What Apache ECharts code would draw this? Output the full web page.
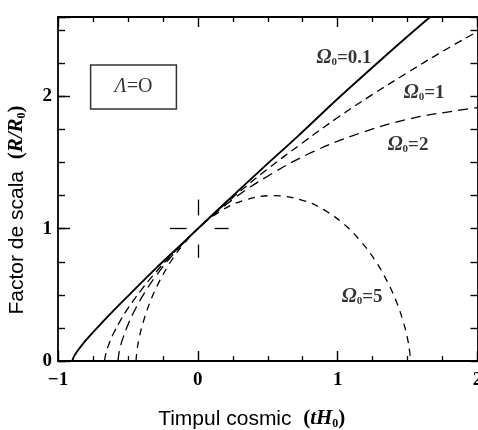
<!DOCTYPE html>
<html lang="ro">
  <head>
    <meta charset="UTF-8" />
    <title>Factor de scala</title>
    <script src="https://cdn.jsdelivr.net/npm/echarts@6/dist/echarts.min.js"></script>
    <style>
      html, body { margin: 0; padding: 0; background: #fff; }
      #main { width: 478px; height: 430px; }
    </style>
  </head>
  <body>
    <div id="main"></div>
    <script>
      // puncte: [t*H0, R/R0]
      var omega01 = [[-0.898, 0], [-0.888, 0.03], [-0.877, 0.049], [-0.861, 0.075], [-0.837, 0.109],
        [-0.803, 0.154], [-0.755, 0.211], [-0.69, 0.285], [-0.603, 0.381], [-0.487, 0.504],
        [-0.3, 0.7], [-0.134, 0.865], [0, 1], [0.188, 1.187], [0.466, 1.46], [0.716, 1.7],
        [1.008, 1.99], [1.25, 2.22], [1.474, 2.43], [1.75, 2.68]];
      var omega1 = [[-0.667, 0], [-0.66, 0.046], [-0.65, 0.085], [-0.62, 0.17], [-0.6, 0.215],
        [-0.55, 0.313], [-0.5, 0.397], [-0.4, 0.543], [-0.3, 0.671], [-0.2, 0.788], [-0.1, 0.897],
        [0, 1], [0.25, 1.236], [0.5, 1.452], [0.75, 1.65], [1, 1.84], [1.25, 2.015], [1.5, 2.18],
        [1.75, 2.34], [2, 2.49]];
      var omega2 = [[-0.571, 0], [-0.57, 0.011], [-0.566, 0.045], [-0.556, 0.1], [-0.535, 0.175],
        [-0.502, 0.268], [-0.454, 0.378], [-0.388, 0.503], [-0.303, 0.638], [-0.156, 0.83],
        [0, 1], [0.255, 1.225], [0.52, 1.41], [0.821, 1.58], [1.154, 1.72], [1.514, 1.83],
        [1.894, 1.9], [2, 1.915]];
      var omega5 = [[-0.442, 0], [-0.4356, 0.077], [-0.4206, 0.168], [-0.3925, 0.287], [-0.348, 0.428],
        [-0.285, 0.581], [-0.184, 0.767], [-0.101, 0.885], [0, 1], [0.152, 1.126], [0.328, 1.214],
        [0.54, 1.25], [0.761, 1.21], [0.909, 1.138], [1.045, 1.034], [1.166, 0.904], [1.27, 0.757],
        [1.355, 0.6], [1.42, 0.448], [1.467, 0.305], [1.497, 0.182], [1.515, 0.07], [1.521, 0]];

      var xTickValues = [-1, 0, 1, 2];
      var xTickLabels = ['\u22121', '0', '1', '2'];
      var yTickValues = [0, 1, 2];
      var yTickLabels = ['0', '1', '2'];

      // momentul prezent (t=0, R=R0)
      var present = [0, 1];

      // etichete pe grafic, in coordonate de date
      var notes = [
        { text: '{o|\u03A9}{s|0}{n|=0.1}', at: [1.046, 2.29] },
        { text: '{o|\u03A9}{s|0}{n|=1}', at: [1.618, 2.026] },
        { text: '{o|\u03A9}{s|0}{n|=2}', at: [1.503, 1.633] },
        { text: '{o|\u03A9}{s|0}{n|=5}', at: [1.175, 0.484] },
        { text: '{l|\u039B}{m|=O}', at: [-0.46, 2.07], box: true }
      ];

      var serif = "'Liberation Serif', 'DejaVu Serif', serif";
      var sans = "'Liberation Sans', Arial, sans-serif";

      var mChart = echarts.init(document.getElementById('main'));

      function xAxisCfg(pos, showLabel) {
        return {
          type: 'value', position: pos, min: -1, max: 2, interval: 1,
          axisLine: { show: true, onZero: false, lineStyle: { color: '#000', width: 1.8 } },
          axisTick: { show: true, inside: true, length: 10, lineStyle: { color: '#000', width: 1.4 } },
          minorTick: { show: true, splitNumber: 4, length: 5, lineStyle: { color: '#000', width: 1.3 } },
          splitLine: { show: false },
          minorSplitLine: { show: false },
          axisLabel: {
            show: showLabel, margin: 10, color: '#000',
            fontFamily: serif, fontWeight: 'bold', fontSize: 19,
            formatter: function (v) {
              var i = xTickValues.indexOf(v);
              return i < 0 ? '' : xTickLabels[i];
            }
          }
        };
      }

      function yAxisCfg(pos, interval, len, showLine, showLabel) {
        return {
          type: 'value', position: pos, min: 0, max: 2.6, interval: interval,
          axisLine: { show: showLine, onZero: false, lineStyle: { color: '#000', width: 1.8 } },
          axisTick: { show: true, inside: true, length: len, lineStyle: { color: '#000', width: 1.4 } },
          splitLine: { show: false },
          axisLabel: {
            show: showLabel, margin: 6, color: '#000',
            fontFamily: serif, fontWeight: 'bold', fontSize: 19,
            formatter: function (v) {
              var i = yTickValues.indexOf(v);
              return i < 0 ? '' : yTickLabels[i];
            }
          }
        };
      }

      var nameRich = {
        a: { fontFamily: sans, fontSize: 21, lineHeight: 22 },
        b: { fontFamily: serif, fontWeight: 'bold', fontSize: 21, lineHeight: 22 },
        i: { fontFamily: serif, fontWeight: 'bold', fontStyle: 'italic', fontSize: 21, lineHeight: 22 },
        s: { fontFamily: serif, fontWeight: 'bold', fontSize: 12, lineHeight: 11, verticalAlign: 'bottom' }
      };

      var xBottom = xAxisCfg('bottom', true);
      xBottom.name = '{a|Timpul cosmic}  {b|(}{i|tH}{s|0}{b|)}';
      xBottom.nameLocation = 'middle';
      xBottom.nameGap = 47;
      xBottom.nameMoveOverlap = false;
      xBottom.nameTextStyle = { color: '#000', fontFamily: sans, fontSize: 21, padding: [0, 32, 0, 0], rich: nameRich };

      var yLeft = yAxisCfg('left', 0.25, 7, true, true);
      yLeft.name = '{a|Factor de scala}  {b|(}{i|R/R}{s|0}{b|)}';
      yLeft.nameLocation = 'middle';
      yLeft.nameGap = 30;
      yLeft.nameMoveOverlap = false;
      yLeft.nameTextStyle = { color: '#000', fontFamily: sans, fontSize: 21, padding: [0, 42, 0, 0], rich: nameRich };

      var dashed = function (data, dash, w) {
        return {
          type: 'line', data: data, symbol: 'none', smooth: 0.4,
          clip: true, silent: true,
          lineStyle: { color: '#000', width: w, type: dash }
        };
      };

      var solid = {
        type: 'line', data: omega01, symbol: 'none', smooth: 0.4,
        clip: true, silent: true,
        lineStyle: { color: '#000', width: 1.9 },
        markLine: {
          silent: true, symbol: 'none', animation: false,
          label: { show: false },
          lineStyle: { color: '#000', width: 1.3, type: 'solid' },
          data: [
            [{ coord: [present[0] - 0.2, present[1]] }, { coord: [present[0] - 0.08, present[1]] }],
            [{ coord: [present[0] + 0.12, present[1]] }, { coord: [present[0] + 0.22, present[1]] }],
            [{ coord: [present[0], present[1] + 0.1] }, { coord: [present[0], present[1] + 0.22] }],
            [{ coord: [present[0], present[1] - 0.22] }, { coord: [present[0], present[1] - 0.12] }]
          ]
        }
      };

      var noteSeries = {
        type: 'scatter', symbolSize: 0, silent: true, z: 5,
        data: notes.map(function (n) {
          var item = { value: n.at, label: { formatter: n.text } };
          if (n.box) {
            item.label.borderColor = '#000';
            item.label.borderWidth = 1.5;
            item.label.padding = [11, 24];
          }
          return item;
        }),
        label: {
          show: true, position: 'inside', color: '#000',
          rich: {
            o: { fontFamily: serif, fontWeight: 'bold', fontStyle: 'italic', fontSize: 20, lineHeight: 20, color: '#000' },
            s: { fontFamily: serif, fontWeight: 'bold', fontSize: 11, lineHeight: 10, verticalAlign: 'bottom', color: '#000' },
            n: { fontFamily: serif, fontWeight: 'bold', fontSize: 19, lineHeight: 20, color: '#000' },
            l: { fontFamily: serif, fontStyle: 'italic', fontSize: 20, lineHeight: 22, color: '#000' },
            m: { fontFamily: serif, fontSize: 20, lineHeight: 22, color: '#000' }
          }
        }
      };

      var option = {
        animation: false,
        backgroundColor: '#fff',
        grid: { left: 58, top: 17, right: 0.5, bottom: 69, outerBoundsMode: 'none', containLabel: false },
        xAxis: [xBottom, xAxisCfg('top', false)],
        yAxis: [
          yLeft,
          yAxisCfg('left', 1, 12, false, false),
          yAxisCfg('right', 0.25, 7, true, false)
        ],
        series: [
          solid,
          dashed(omega1, [8, 5], 1.3),
          dashed(omega2, [10, 6], 1.3),
          dashed(omega5, [7, 6], 1.3),
          noteSeries
        ]
      };

      mChart.setOption(option);
    </script>
  </body>
</html>
